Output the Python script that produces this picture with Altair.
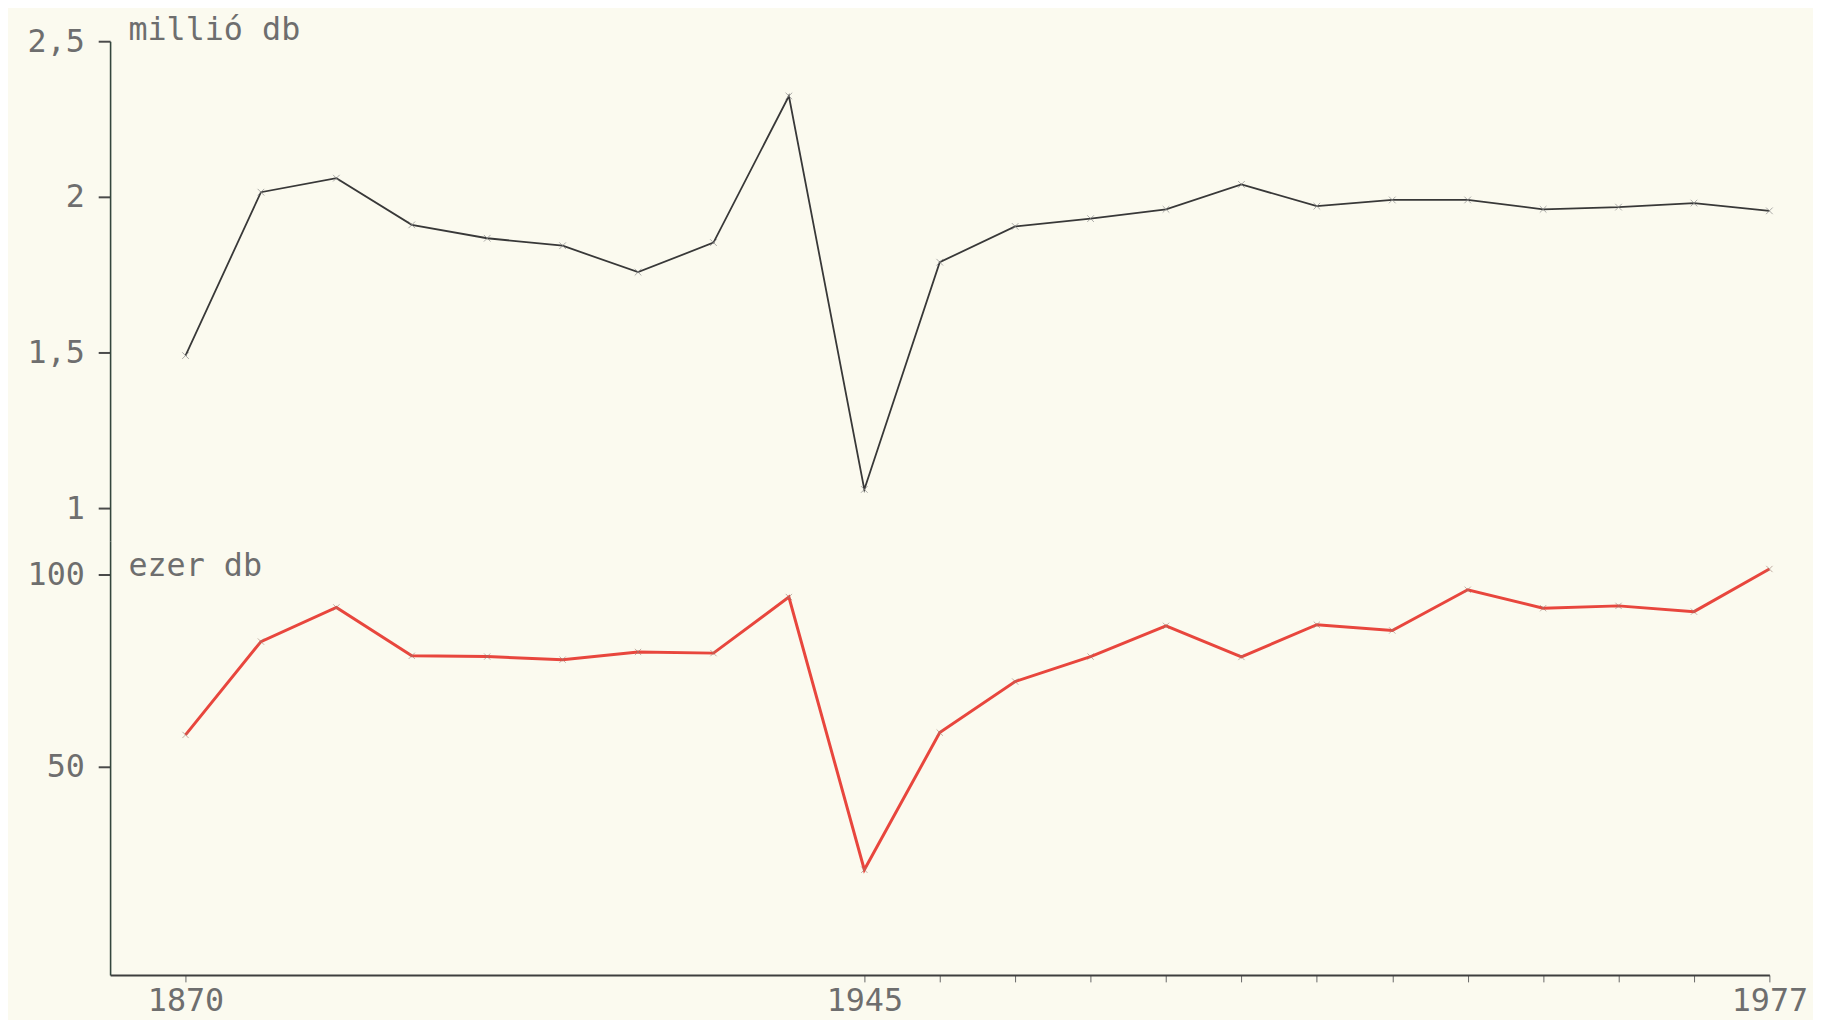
import altair as alt
import pandas as pd

# point index along the (hand-drawn, evenly spaced) time axis
point_index = list(range(22))
x_tick_labels = {0: "1870", 9: "1945", 21: "1977"}

# upper series: millió db
black_values = [1.49, 2.015, 2.06, 1.91, 1.867, 1.843, 1.758, 1.853, 2.324, 1.06,
                1.79, 1.905, 1.93, 1.96, 2.04, 1.97, 1.99, 1.99, 1.96, 1.967, 1.98, 1.955]
# lower series: ezer db
red_values = [58.3, 82.6, 91.5, 78.9, 78.7, 77.9, 79.9, 79.6, 94.2, 23.2,
              58.9, 72.2, 78.7, 86.7, 78.6, 87.0, 85.5, 96.1, 91.3, 91.9, 90.4, 101.5]

top_ticks = [1, 1.5, 2, 2.5]
bottom_ticks = [50, 100]
x_ticks = [0] + list(range(9, 22))

df_top = pd.DataFrame({"i": point_index, "v": black_values})
df_bot = pd.DataFrame({"i": point_index, "v": red_values})

FONT = "DejaVu Sans Mono"
TXT = "#6e6e6e"
BG = "#fbfaef"
XMARK = "M-1,-1L1,1M-1,1L1,-1"
FS = 32

xscale = alt.Scale(domain=[-1, 21], nice=False, zero=False)

label_expr = "replace(format(datum.value, '~g'), '.', ',')"
x_label_expr = ("datum.value == 0 ? '" + x_tick_labels[0] + "' : datum.value == 9 ? '"
                + x_tick_labels[9] + "' : datum.value == 21 ? '" + x_tick_labels[21] + "' : ''")

def y_axis(values, title, title_y):
    return alt.Axis(
        values=values, grid=False, labelExpr=label_expr,
        tickSize=12, tickWidth=2, tickColor="#4a4a4a",
        domainColor="#34463e", domainWidth=1.6,
        labelPadding=14, labelFont=FONT, labelFontSize=FS, labelColor=TXT,
        title=title, titleAngle=0, titleAlign="left", titleBaseline="middle",
        titleX=18, titleY=title_y, titleFont=FONT, titleFontSize=FS,
        titleFontWeight="normal", titleColor=TXT,
    )

top_base = alt.Chart(df_top).encode(
    x=alt.X("i:Q", scale=xscale, axis=None),
    y=alt.Y("v:Q", scale=alt.Scale(domain=[0.895, 2.5], nice=False, zero=False),
            axis=y_axis(top_ticks, "millió db", -12)),
)
top = alt.layer(
    top_base.mark_line(color="#383838", strokeWidth=1.8),
    top_base.mark_point(shape=XMARK, size=45, filled=False, color="#8a8a8a",
                        strokeWidth=1, opacity=0.7),
).properties(width=1674, height=504)

bot_base = alt.Chart(df_bot).encode(
    x=alt.X("i:Q", scale=xscale,
            axis=alt.Axis(values=x_ticks, grid=False, labelExpr=x_label_expr,
                          tickSize=7, tickColor="#666666", tickWidth=1,
                          domainColor="#3e3e3e", domainWidth=2,
                          labelPadding=4, labelFont=FONT, labelFontSize=FS,
                          labelColor=TXT, title=None, labelFlush=False)),
    y=alt.Y("v:Q", scale=alt.Scale(domain=[-4.2, 108.85], nice=False, zero=False),
            axis=y_axis(bottom_ticks, "ezer db", 25)),
)
bottom = alt.layer(
    bot_base.mark_line(color="#e8463d", strokeWidth=3),
    bot_base.mark_point(shape=XMARK, size=40, filled=False, color="#9a7a70",
                        strokeWidth=1, opacity=0.6),
).properties(width=1674, height=438)

chart = alt.vconcat(top, bottom, spacing=0).properties(
    background=BG, padding={"left": 19, "top": 1, "right": 5, "bottom": 5}
).configure_view(stroke=None)

chart.save("out.html", embed_options={"renderer": "svg", "actions": False})
